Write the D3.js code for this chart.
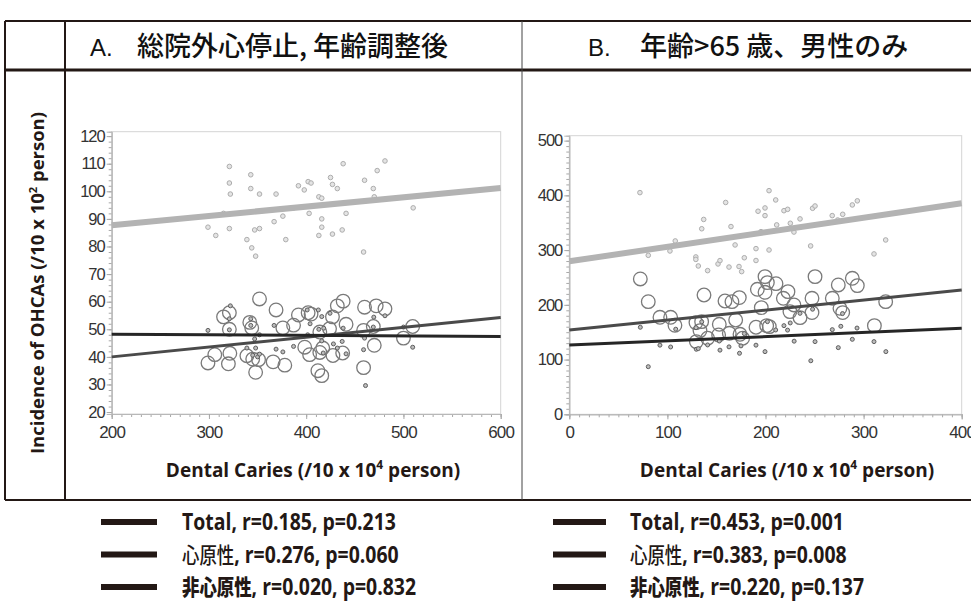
<!DOCTYPE html>
<html><head><meta charset="utf-8">
<script src="https://cdn.jsdelivr.net/npm/d3@7"></script>
<style>html,body{margin:0;padding:0;background:#fff;} svg{display:block;}</style>
</head><body>
<svg id="c" width="971" height="603"></svg>
<script>
// ---------- data ----------
const panelLetters = ["A.", "B."];
const panelTitles = ["総院外心停止, 年齢調整後", "年齢>65 歳、男性のみ"];
const aXTicks = [200, 300, 400, 500, 600];
const aYTicks = [20, 30, 40, 50, 60, 70, 80, 90, 100, 110, 120];
const bXTicks = [0, 100, 200, 300, 400];
const bYTicks = [0, 100, 200, 300, 400, 500];

// Panel A points [dental caries, incidence]
const aTotal = [[321,109],[321,103],[322,99],[343,106],[343,101],[352,99],[369,99],[299,87],[307,84],[321,86.5],[339,82.5],[344,79.5],[348,76.5],[347,86],[352,86.5],[367,89],[376,91],[379,82.5],[315,92],[392,102],[398,100.5],[402,103.5],[405,103],[403,92],[387,94],[413,98],[416,97.5],[416,90],[416,87],[413,84],[425,105],[427,102.5],[432,101],[427,84.5],[438,110],[437,86],[441,92],[460,104],[459,78],[469,101],[470,98],[473,107.5],[481,111],[510,94]];
const aCardiac = [[352,61],[369,57],[315,54.5],[321,56],[321,50],[342,52.5],[344,50.5],[376,50.5],[387,51.5],[392,55.2],[402,56],[405,55.5],[424,50.2],[427,54.5],[432,58.5],[438,60.2],[441,51.8],[460,58],[472,58.5],[481,57.4],[469,51],[459,49.6],[509.5,51],[500,46.8],[470,44.2],[437.5,41.4],[427.5,40.5],[417,43.2],[414,41.6],[403.5,40.8],[398.5,43.5],[412,35],[416,33.2],[459,36.1],[378,37],[366,38.2],[348,34.4],[351,39],[345,39.2],[339,40.4],[299,37.8],[306,40.8],[320,37.5],[321.5,41.3],[414,49]];
const aNoncardiac = [[299,49.6],[322,58.5],[321,53.8],[321,49.8],[343,53.8],[343,51.4],[347,46.5],[348,43.2],[339,43.2],[352,48],[367,51.4],[369,42.8],[376,41.8],[387,43.8],[401,57],[404,52],[412.5,57],[416,54.6],[424.5,55.8],[418,50.4],[428,44.7],[432,43.2],[437,45.6],[441,41.1],[438,50.4],[459,42.6],[460,46.8],[469.5,54.4],[469,50.8],[481,54.9],[461,29.6],[509.5,43.5],[500,50.8],[401.5,48],[413,50],[416,45.8],[417.5,41.4],[345,40.6],[350,40],[352,41]];

// Panel B points
const bTotal = [[72,405],[80.5,290.5],[102.6,298.4],[108,316.7],[135,339],[137,356],[129,287.5],[129,283],[131.5,271],[141,262.5],[151.6,274.7],[153.6,280.8],[159.4,387],[162.8,269],[164.8,343],[169,309.4],[173,270],[175.7,260.7],[178.4,286],[190.3,281],[190.3,302.7],[192.4,371],[199.5,377],[199.5,363],[195.4,333.7],[203.6,408.6],[203.6,300.2],[210.4,391.6],[218.8,372],[222.6,374.5],[225.3,349],[229,333],[235.2,357],[246,307.6],[248,376.4],[250.5,380.6],[268,363],[278.7,365.4],[288.5,382.5],[293.6,390],[310.6,293],[322.5,318.5],[211.4,346],[273.6,355]];
const bCardiac = [[72.4,247.3],[80.5,205.8],[92.4,177.2],[103.3,177.2],[107.7,162.6],[137.3,218],[129.1,167.5],[134.9,169.3],[133.2,152.9],[129.5,132.8],[141,138.9],[152.9,164.4],[152.2,145],[158.7,207],[165.8,205.8],[173.3,213.2],[169.6,172.3],[163.1,148],[174,146.2],[176.7,138.9],[190.3,159],[191.7,228.4],[195.7,194.9],[199.5,251.5],[201.9,240.6],[199.5,222.9],[210.7,238.7],[201.2,162],[203.9,160.2],[222.9,224.1],[218.2,211.9],[229,199.8],[224.9,187.6],[235.2,176.6],[247.4,211.9],[247.4,185.8],[250.5,251.5],[268.1,211.9],[274.2,236.3],[275.9,193.7],[278.7,185.8],[288.5,248.5],[293.6,235.1],[311,162],[322.5,205.8]];
const bNoncardiac = [[72.4,159],[80.5,87],[92.4,126.3],[103.3,123],[108.5,155.5],[129.5,118.8],[131.5,120],[141,126.7],[153.6,117.2],[162.8,123.2],[173.5,111.5],[175,125],[178.4,147.4],[190.3,126.3],[199.5,114.5],[202,169.3],[210.4,154.1],[218.8,162],[222.5,153.8],[225.2,166.9],[229.2,133.6],[235.2,184.5],[246.2,97.8],[248,192],[250.5,132.8],[268.1,154.7],[276.8,160.8],[278.5,184],[274.2,121.8],[288.5,137],[293.3,157.6],[310.6,132.8],[322.7,114.5],[152.9,133.9],[129.2,158.2],[135,169]];

// regression lines: values at the two x-axis ends
const aFitX = [200, 600];
const aFitTotal = [87.7, 101.2];
const aFitCardiac = [40.0, 54.3];
const aFitNoncardiac = [48.2, 47.4];
const bFitX = [0, 400];
const bFitTotal = [279.5, 385.5];
const bFitCardiac = [154, 227];
const bFitNoncardiac = [126.5, 157];

const legendNames = ["Total", "心原性", "非心原性"];
const legendA_r = ["0.185", "0.276", "0.020"];
const legendA_p = ["0.213", "0.060", "0.832"];
const legendB_r = ["0.453", "0.383", "0.220"];
const legendB_p = ["0.001", "0.008", "0.137"];

// ---------- drawing ----------
const svg = d3.select("#c");
const INK = "#231815";
const latin = "'Liberation Sans', Arial, sans-serif";
const cjk = "'Noto Sans CJK JP', 'Noto Sans', sans-serif";
const boldFont = "'Open Sans', 'Noto Sans CJK JP', sans-serif";

// table frame
const T = {left: 5, sep: 65, mid: 522, top: 21, head: 70, bottom: 500, right: 971};
const tbl = svg.append("g").attr("stroke", INK);
tbl.append("line").attr("x1", T.left).attr("x2", T.right).attr("y1", T.top).attr("y2", T.top).attr("stroke-width", 2);
tbl.append("line").attr("x1", T.left).attr("x2", T.right).attr("y1", T.head).attr("y2", T.head).attr("stroke-width", 3);
tbl.append("line").attr("x1", T.left).attr("x2", T.right).attr("y1", T.bottom).attr("y2", T.bottom).attr("stroke-width", 2);
tbl.append("line").attr("x1", T.left).attr("x2", T.left).attr("y1", T.top).attr("y2", T.bottom).attr("stroke-width", 2);
tbl.append("line").attr("x1", T.sep).attr("x2", T.sep).attr("y1", T.top).attr("y2", T.bottom).attr("stroke-width", 2);
tbl.append("line").attr("x1", T.mid).attr("x2", T.mid).attr("y1", T.top).attr("y2", T.bottom).attr("stroke-width", 1).attr("stroke", "#444");

// headers
const headX = [[90, 137], [588, 640]];
panelLetters.forEach((l, i) => {
  svg.append("text").attr("x", headX[i][0]).attr("y", 56).attr("font-family", latin)
    .attr("font-size", 24).attr("fill", "#111").text(l);
  svg.append("text").attr("x", headX[i][1]).attr("y", 56).attr("font-family", cjk)
    .attr("font-weight", 500).attr("font-size", 27).attr("fill", "#111").text(panelTitles[i]);
});

// y axis title
const yt = svg.append("text").attr("transform", "translate(44,283) rotate(-90)")
  .attr("text-anchor", "middle").attr("font-family", boldFont).attr("font-weight", 700)
  .attr("font-size", 18.5).attr("fill", INK);
yt.append("tspan").text("Incidence of OHCAs  (/10 x 10");
yt.append("tspan").attr("font-size", 11).attr("dy", -7).text("2");
yt.append("tspan").attr("dy", 7).text(" person)");

function panel(cfg) {
  const x = d3.scaleLinear().domain(cfg.xDomain).range(cfg.xRange);
  const y = d3.scaleLinear().domain(cfg.yDomain).range(cfg.yRange);
  const g = svg.append("g");
  const [x0, x1] = cfg.xRange, [y0, y1] = cfg.yRange; // y0 bottom, y1 top
  // frame
  g.append("rect").attr("x", x0).attr("y", y1).attr("width", x1 - x0).attr("height", y0 - y1)
    .attr("fill", "none").attr("stroke", "#d4d4d4").attr("stroke-width", 1);
  // axes
  const xAxis = d3.axisBottom(x).tickValues(cfg.xTicks).tickSize(5).tickPadding(7).tickFormat(d3.format("d"));
  const xMinor = d3.axisBottom(x).ticks(cfg.xMinorCount).tickSize(3).tickFormat("");
  const yAxis = d3.axisLeft(y).tickValues(cfg.yTicks).tickSize(5).tickPadding(2).tickFormat(d3.format("d"));
  const yMinor = d3.axisLeft(y).ticks(cfg.yMinorCount).tickSize(3).tickFormat("");
  [xMinor, xAxis].forEach(a => {
    const ax = g.append("g").attr("transform", `translate(0,${y0})`).call(a);
    ax.select(".domain").attr("stroke", "#b8b8b8");
    ax.selectAll(".tick line").attr("stroke", "#a8a8a8");
    ax.selectAll("text").attr("font-family", latin).attr("font-size", 17).attr("fill", "#333").attr("letter-spacing", -0.8);
  });
  [yMinor, yAxis].forEach(a => {
    const ax = g.append("g").attr("transform", `translate(${x0},0)`).call(a);
    ax.select(".domain").attr("stroke", "#b8b8b8");
    ax.selectAll(".tick line").attr("stroke", "#a8a8a8");
    ax.selectAll("text").attr("font-family", latin).attr("font-size", 16.5).attr("fill", "#333").attr("letter-spacing", -1);
  });
  // points
  g.append("g").selectAll("circle").data(cfg.total).join("circle")
    .attr("cx", d => x(d[0])).attr("cy", d => y(d[1])).attr("r", 2.3)
    .attr("fill", "#e4e4e4").attr("stroke", "#adadad").attr("stroke-width", 1);
  g.append("g").selectAll("circle").data(cfg.cardiac).join("circle")
    .attr("cx", d => x(d[0])).attr("cy", d => y(d[1])).attr("r", 6.8)
    .attr("fill", "none").attr("stroke", "#7a7a7a").attr("stroke-width", 1.3);
  g.append("g").selectAll("circle").data(cfg.noncardiac).join("circle")
    .attr("cx", d => x(d[0])).attr("cy", d => y(d[1])).attr("r", 2)
    .attr("fill", "#bdbdbd").attr("stroke", "#5e5e5e").attr("stroke-width", 1);
  // fit lines
  const line = d3.line().x(d => x(d[0])).y(d => y(d[1]));
  const fits = [
    {v: cfg.fitTotal, c: "#b3b3b3", w: 6},
    {v: cfg.fitCardiac, c: "#4a4a4a", w: 3},
    {v: cfg.fitNoncardiac, c: "#262626", w: 3}
  ];
  fits.forEach(f => {
    g.append("path").datum(cfg.fitX.map((xv, i) => [xv, f.v[i]]))
      .attr("d", line).attr("fill", "none").attr("stroke", f.c).attr("stroke-width", f.w);
  });
  // x title
  const xt = g.append("text").attr("x", cfg.xTitleX).attr("y", 477).attr("text-anchor", "middle")
    .attr("font-family", boldFont).attr("font-weight", 700).attr("font-size", 19).attr("fill", INK);
  xt.append("tspan").text("Dental Caries (/10 x 10");
  xt.append("tspan").attr("font-size", 12).attr("dy", -8).text("4");
  xt.append("tspan").attr("dy", 8).text(" person)");
}

panel({
  xDomain: [200, 600], xRange: [111.7, 500.7], yDomain: [19.3, 121.6], yRange: [414, 131.7],
  xTicks: aXTicks, yTicks: aYTicks, xMinorCount: 40, yMinorCount: 50,
  total: aTotal, cardiac: aCardiac, noncardiac: aNoncardiac,
  fitX: aFitX, fitTotal: aFitTotal, fitCardiac: aFitCardiac, fitNoncardiac: aFitNoncardiac,
  xTitleX: 313
});
panel({
  xDomain: [0, 400], xRange: [569.3, 961.7], yDomain: [0, 509], yRange: [414.3, 135.7],
  xTicks: bXTicks, yTicks: bYTicks, xMinorCount: 40, yMinorCount: 50,
  total: bTotal, cardiac: bCardiac, noncardiac: bNoncardiac,
  fitX: bFitX, fitTotal: bFitTotal, fitCardiac: bFitCardiac, fitNoncardiac: bFitNoncardiac,
  xTitleX: 787
});

// legends
function legend(lineX, textX, rs, ps) {
  legendNames.forEach((name, i) => {
    const cy = 522 + i * 32.5;
    svg.append("line").attr("x1", lineX[0]).attr("x2", lineX[1]).attr("y1", cy).attr("y2", cy)
      .attr("stroke", INK).attr("stroke-width", 6);
    const t = svg.append("text").attr("transform", `translate(${textX},${cy + 8}) scale(0.81,1)`)
      .attr("font-family", boldFont).attr("font-weight", 700).attr("font-size", 24).attr("fill", INK);
    if (i === 0) t.append("tspan").text(name);
    else t.append("tspan").attr("font-family", cjk).attr("font-weight", i === 1 ? 500 : 900).attr("font-size", 21.5).text(name);
    t.append("tspan").text(`, r=${rs[i]}, p=${ps[i]}`);
  });
}
legend([101, 157], 182, legendA_r, legendA_p);
legend([553, 606], 630, legendB_r, legendB_p);
</script>
</body></html>
